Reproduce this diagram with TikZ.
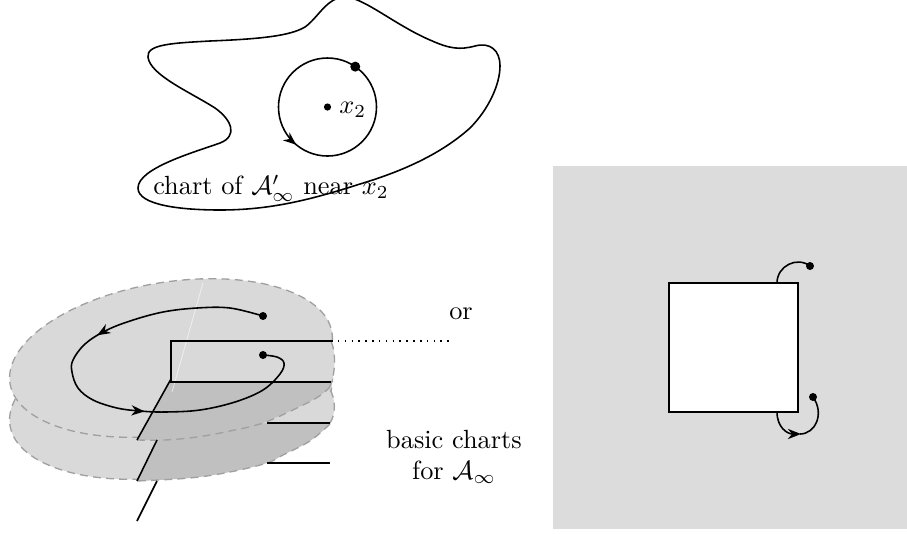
\documentclass[tikz,border=0pt]{standalone}
\usetikzlibrary{arrows.meta,decorations.markings,calc}
\definecolor{lightsheet}{RGB}{217,217,217}
\definecolor{darksheet}{RGB}{192,192,192}
\definecolor{rimgray}{RGB}{160,160,160}
\definecolor{panelgray}{RGB}{220,220,220}
\begin{document}
\begin{tikzpicture}[x=0.38pt,y=-0.38pt,line width=0.6pt,
  rim/.style={draw=rimgray,line width=0.5pt,dash pattern=on 3pt off 2pt},
  dotmark/.style={fill=black,draw=none},
  bigtip/.tip={Stealth[length=5pt,width=3.9pt,inset=1.6pt]},
  tip/.style={-bigtip}]
\useasboundingbox (0,0) rectangle (907,533);

% ---------- top blob ----------
\draw (148,57) .. controls (146,44) and (175,43) .. (210,41)
  .. controls (260,39) and (290,36) .. (305,27)
  .. controls (318,18) and (327,-3) .. (345,-3)
  .. controls (363,-3) and (395,25) .. (430,40)
  .. controls (450,49) and (460,50) .. (475,46)
  .. controls (490,42) and (500,50) .. (500,66)
  .. controls (500,85) and (488,110) .. (470,128)
  .. controls (440,155) and (400,172) .. (360,184)
  .. controls (310,200) and (270,210) .. (220,210)
  .. controls (180,210) and (138,205) .. (138,188)
  .. controls (138,168) and (195,152) .. (220,143)
  .. controls (238,136) and (232,120) .. (215,108)
  .. controls (190,92) and (150,75) .. (148,57) -- cycle;
\coordinate (cc) at (327.5,107);
\draw[decoration={markings,mark=at position 0.64 with {\arrow{bigtip}}},postaction=decorate]
  ($(cc)+(49,0)$) arc[start angle=0,end angle=-360,radius=49];
\fill[dotmark] (cc) circle[radius=3.6];
\fill[dotmark] ($(cc)+(-55.5:49)$) circle[radius=5];
\node[anchor=west,inner sep=1pt] (x2) at (336,110) {$x_2$};
\node (chart) at (271,188) {chart of $\mathcal{A}'_\infty$ near $x_2$};

% ---------- stacked sheets ----------
\fill[lightsheet] [rotate around={9:(171,400)}] (171,400) ellipse[x radius=163,y radius=76];
\draw[rim] [rotate around={9:(171,400)}] (171,400) ellipse[x radius=163,y radius=76];
\fill[lightsheet] [rotate around={9:(171,358)}] (171,358) ellipse[x radius=163,y radius=76];
\draw[rim] [rotate around={9:(171,358)}] (171,358) ellipse[x radius=163,y radius=76];
% rim 2 patch
\fill[lightsheet] (290,341) -- (331,341) .. controls (336,352) and (336,375) .. (329,388) -- (290,382) -- cycle;
% dark region
\fill[darksheet] (171,382) -- (330,382) -- (330,424)
  -- plot[smooth,tension=0.6] coordinates {(330,424) (310,441) (283,455) (267,463) (230,472) (190,478) (137,481)}
  -- (157,440) -- (137,440) -- (171,379) -- cycle;
% rim 3 patch
\fill[lightsheet] plot[smooth,tension=0.6] coordinates {(263,423) (297,408) (318,397) (329,388)}
  .. controls (336,398) and (336,414) .. (330,423) -- cycle;
% outlines
\draw[rim] plot[smooth,tension=0.6] coordinates {(137,440) (165,440) (197,437) (230,431) (263,423) (297,408) (318,397) (329,388)};
\draw[rim] (329,388) .. controls (336,375) and (336,352) .. (331,341);
\draw[rim] (330,423) .. controls (336,414) and (336,398) .. (329,388);
\draw[rim] plot[smooth,tension=0.6] coordinates {(330,424) (310,441) (283,455) (267,463) (230,472) (190,478) (137,481)};
% faint cut line
\draw[white,opacity=0.6,line width=0.3pt] (203,283) -- (172,392);
% chart lines
\draw (331,341) -- (171,341) -- (171,382) -- (331,382);
\draw[dotted] (331,341) -- (453,341);
\draw (267,423) -- (330,423);
\draw (267,463) -- (330,463);
\draw (171,379) -- (137,440);
\draw (157,440) -- (137,481);
\draw (157,481) -- (137,521);
% spiral path
\coordinate (s1) at (263,316);
\coordinate (s2) at (263,355);
\draw[decoration={markings,
   mark=at position 0.35 with {\arrow{bigtip}},
   mark=at position 0.63 with {\arrow{bigtip}}},postaction=decorate]
  plot[smooth,tension=0.6] coordinates {(263,316) (230,308) (197,308) (163,312) (130,321) (105,331)
   (85,344) (73,360) (72,372) (78,388) (93,400) (117,408) (140,411) (165,412) (200,410)
   (235,402) (263,390) (280,374) (284,363) (277,357) (263,355)};
\fill[dotmark] (s1) circle[radius=4];
\fill[dotmark] (s2) circle[radius=4];
\node (or) at (461,314) {or};
\node[align=center] (basic) at (454,457) {basic charts\\for $\mathcal{A}_\infty$};

% ---------- right panel ----------
\fill[panelgray] (553,166) rectangle (907,529);
\node[draw,fill=white,minimum width=129*0.38pt,minimum height=129*0.38pt,inner sep=0pt,line width=0.6pt] (sq) at (733.5,347.5) {};
\coordinate (d1) at (810,266);
\coordinate (d2) at (813,397);
\draw (777,283) .. controls (777,266) and (797,256) .. (d1);
\draw[tip] (777,412) .. controls (777,427) and (787,434) .. (801,434);
\draw (800,434) .. controls (815,434) and (825,414) .. (d2);
\fill[dotmark] (d1) circle[radius=4];
\fill[dotmark] (d2) circle[radius=4];
\end{tikzpicture}
\end{document}
